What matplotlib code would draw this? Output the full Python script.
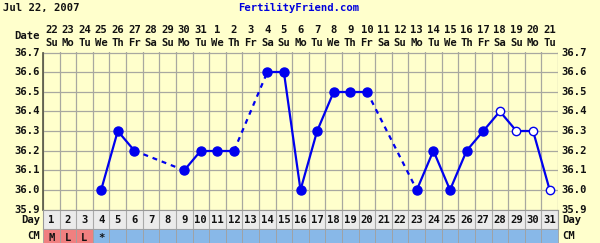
import matplotlib
matplotlib.use("Agg")
import matplotlib.pyplot as plt
import matplotlib.transforms as mtransforms
from matplotlib.patches import Rectangle

# chart data
days = list(range(1, 32))
dates = [22, 23, 24, 25, 26, 27, 28, 29, 30, 31,
         1, 2, 3, 4, 5, 6, 7, 8, 9, 10, 11, 12, 13, 14, 15, 16, 17, 18, 19, 20, 21]
weekdays = ["Su", "Mo", "Tu", "We", "Th", "Fr", "Sa"] * 5
weekdays = weekdays[:31]
temps = [None, None, None, 36.0, 36.3, 36.2, None, None, 36.1, 36.2,
         36.2, 36.2, None, 36.6, 36.6, 36.0, 36.3, 36.5, 36.5, 36.5,
         None, None, 36.0, 36.2, 36.0, 36.2, 36.3, 36.4, 36.3, 36.3, 36.0]
open_days = [28, 29, 30, 31]
cm = ["M", "L", "L", "*"] + [""] * 27
y_ticks = [35.9, 36.0, 36.1, 36.2, 36.3, 36.4, 36.5, 36.6, 36.7]

BG = "#FFFFCC"
GRID = "#A8A8A0"
BLUE = "#0000EE"
TXT = "#111111"
FONT = dict(family="DejaVu Sans Mono", weight="bold", size=7.6)

W, H = 600, 243
fig = plt.figure(figsize=(W / 100, H / 100), dpi=100, facecolor=BG)


def fx(px):
    return px / W


def fy(py):
    return 1 - py / H


left, right = 43, 558
top, bottom = 52.5, 209.6
ax = fig.add_axes([fx(left), fy(bottom), fx(right - left), (bottom - top) / H])
ax.set_facecolor(BG)
ax.set_xlim(0.5, 31.5)
ax.set_ylim(35.9, 36.7)
for k in range(32):
    ax.axvline(0.5 + k, color=GRID, lw=0.9, zorder=1)
for t in y_ticks:
    ax.axhline(t, color=GRID, lw=0.9, zorder=1)
ax.set_xticks([])
ax.set_yticks([])
for side in ["top", "bottom", "right"]:
    ax.spines[side].set_visible(False)
ax.spines["left"].set_color("#555544")
ax.spines["left"].set_linewidth(1.2)

# lines: solid between consecutive days, dashed over gaps
known = [(d, t) for d, t in zip(days, temps) if t is not None]
for (d0, t0), (d1, t1) in zip(known[:-1], known[1:]):
    style = "-" if d1 - d0 == 1 else (0, (2.2, 2.2))
    ax.plot([d0, d1], [t0, t1], color=BLUE, lw=1.6, linestyle=style, zorder=2)

for d, t in known:
    if d in open_days:
        ax.plot(d, t, "o", ms=6, mfc="white", mec=BLUE, mew=1.0, zorder=3)
    else:
        ax.plot(d, t, "o", ms=6.5, mfc=BLUE, mec=BLUE, zorder=3)

# y labels on both sides
for t in y_ticks:
    ax.text(0.32, t, f"{t:.1f}", ha="right", va="center", color=TXT,
            **FONT, clip_on=False)
    ax.text(31.68, t, f"{t:.1f}", ha="left", va="center", color=TXT,
            **FONT, clip_on=False)

# header
trans = mtransforms.blended_transform_factory(ax.transData, fig.transFigure)
fig.text(fx(3), fy(8), "Jul 22, 2007", ha="left", va="center", color=TXT, **FONT)
fig.text(fx(299), fy(8), "FertilityFriend.com", ha="center", va="center",
         color="#0000DD", **FONT)
fig.text(fx(40), fy(36), "Date", ha="right", va="center", color=TXT, **FONT)
for d, dt, wd in zip(days, dates, weekdays):
    fig.text(d, fy(30), str(dt), ha="center", va="center", color=TXT,
             transform=trans, **FONT)
    fig.text(d, fy(43), wd, ha="center", va="center", color=TXT,
             transform=trans, **FONT)

# day row
ax_day = fig.add_axes([fx(left), fy(229), fx(right - left), 19 / H])
ax_day.set_xlim(0.5, 31.5)
ax_day.set_ylim(0, 1)
ax_day.set_facecolor("#EBEBEB")
ax_day.set_xticks([])
ax_day.set_yticks([])
for s in ax_day.spines.values():
    s.set_color("#999999")
    s.set_linewidth(0.8)
for d in days:
    ax_day.axvline(d + 0.5, color="#AAAAAA", lw=0.8)
    ax_day.text(d, 0.5, str(d), ha="center", va="center", color=TXT, **FONT)
fig.text(fx(40), fy(219.5), "Day", ha="right", va="center", color=TXT, **FONT)
fig.text(fx(562), fy(219.5), "Day", ha="left", va="center", color=TXT, **FONT)

# CM row
ax_cm = fig.add_axes([fx(left), 0, fx(right - left), 12 / H])
ax_cm.set_xlim(0.5, 31.5)
ax_cm.set_ylim(0, 1)
ax_cm.axis("off")
for d, c in zip(days, cm):
    color = "#F08080" if c in ("M", "L") else "#88B8E8"
    ax_cm.add_patch(Rectangle((d - 0.5, 0), 1, 1.2, facecolor=color,
                              edgecolor="#A0A0A0", lw=0.6, clip_on=False))
    if c:
        ax_cm.text(d, 0.45, c, ha="center", va="center", color=TXT, **FONT)
fig.text(fx(40), fy(236), "CM", ha="right", va="center", color=TXT, **FONT)
fig.text(fx(562), fy(236), "CM", ha="left", va="center", color=TXT, **FONT)

fig.savefig("out.png", dpi=100, facecolor=BG)
